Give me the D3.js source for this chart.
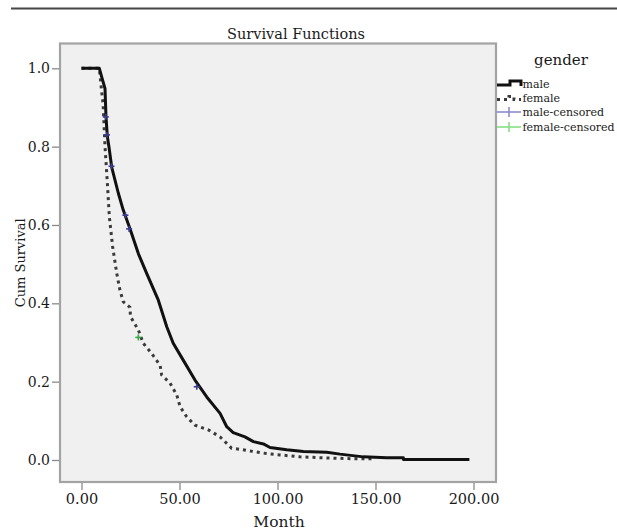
<!DOCTYPE html>
<html>
<head>
<meta charset="utf-8">
<script src="https://cdn.jsdelivr.net/npm/d3@7"></script>
<style>
  html, body { margin: 0; padding: 0; background: #ffffff; }
  svg { display: block; }
  text { font-family: "DejaVu Serif", "Liberation Serif", serif; fill: #1a1a1a; }
</style>
</head>
<body>
<svg id="chart" width="617" height="529"></svg>
<script>
// ---- data ----
const chartTitle = "Survival Functions";
const xAxisTitle = "Month";
const yAxisTitle = "Cum Survival";
const legendTitle = "gender";
const legendLabels = ["male", "female", "male-censored", "female-censored"];

const xTicks = [0, 50, 100, 150, 200];
const yTicks = [0.0, 0.2, 0.4, 0.6, 0.8, 1.0];

const maleMonths = [0, 9.1, 10.3, 12.0, 12.5, 13.2, 14.0, 15.4, 18.8, 21.3, 24.7, 29.0, 33.3, 39.2, 43.5, 46.8, 51.9, 57.9, 63.9, 70.7, 74.1, 77.4, 83.4, 87.7, 92.8, 96.2, 104.7, 113.2, 125.1, 131.9, 143.8, 155.7, 164.2, 164.3, 197.9];
const maleSurvival = [1.0, 1.0, 0.978, 0.948, 0.876, 0.825, 0.80, 0.748, 0.681, 0.638, 0.591, 0.527, 0.476, 0.408, 0.340, 0.298, 0.255, 0.204, 0.161, 0.119, 0.085, 0.070, 0.059, 0.047, 0.041, 0.032, 0.026, 0.022, 0.020, 0.015, 0.008, 0.006, 0.006, 0.001, 0.001];

const femaleMonths = [0, 9.1, 10.3, 11.0, 12.0, 13.2, 14.2, 15.9, 18.0, 19.6, 21.3, 24.7, 25.0, 29.0, 31.5, 35.8, 40.1, 40.9, 45.2, 48.6, 50.3, 53.7, 57.9, 64.7, 70.7, 76.6, 82.4, 93.6, 101.3, 111.5, 126.8, 140.1, 150.0];
const femaleSurvival = [1.0, 1.0, 0.94, 0.91, 0.80, 0.706, 0.621, 0.544, 0.476, 0.434, 0.404, 0.390, 0.366, 0.332, 0.298, 0.272, 0.242, 0.217, 0.196, 0.166, 0.136, 0.110, 0.089, 0.077, 0.059, 0.030, 0.026, 0.017, 0.013, 0.008, 0.005, 0.003, 0.003];

const maleCensoredMonths = [12.4, 13.0, 15.3, 22.4, 24.3, 58.8];
const maleCensoredSurvival = [0.876, 0.83, 0.75, 0.625, 0.59, 0.187];
const femaleCensoredMonths = [29.0];
const femaleCensoredSurvival = [0.313];

// ---- layout ----
const W = 617, H = 529;
const box = { left: 60, right: 496, top: 43.5, bottom: 482 };
const svg = d3.select("#chart");

svg.append("rect").attr("width", W).attr("height", H).attr("fill", "#ffffff");

const x = d3.scaleLinear().domain([0, 200]).range([81.5, 473.5]);
const y = d3.scaleLinear().domain([0, 1]).range([460, 68.3]);

// top rule
svg.append("line")
  .attr("x1", 11).attr("x2", W).attr("y1", 8.5).attr("y2", 8.5)
  .attr("stroke", "#474747").attr("stroke-width", 2);

// title
svg.append("text")
  .attr("x", 296).attr("y", 39)
  .attr("text-anchor", "middle").attr("font-size", 14.5)
  .text(chartTitle);

// plot area
svg.append("rect")
  .attr("x", box.left).attr("y", box.top)
  .attr("width", box.right - box.left).attr("height", box.bottom - box.top)
  .attr("fill", "#f0f0f0").attr("stroke", "#a3a3a3").attr("stroke-width", 2.2);

// y axis
const yAxis = d3.axisLeft(y).tickValues(yTicks).tickFormat(d3.format(".1f")).tickSize(7).tickPadding(2);
const gy = svg.append("g").attr("transform", `translate(${box.left - 1},0)`).call(yAxis);
gy.select(".domain").remove();
gy.selectAll(".tick line").attr("stroke", "#8a8a8a").attr("stroke-width", 1.3);
gy.selectAll(".tick text").attr("font-size", 14).attr("font-family", "DejaVu Serif").attr("fill", "#1a1a1a");

// x axis
const xAxis = d3.axisBottom(x).tickValues(xTicks).tickFormat(d3.format(".2f")).tickSize(7).tickPadding(4);
const gx = svg.append("g").attr("transform", `translate(0,${box.bottom + 1})`).call(xAxis);
gx.select(".domain").remove();
gx.selectAll(".tick line").attr("stroke", "#8a8a8a").attr("stroke-width", 1.3);
gx.selectAll(".tick text").attr("font-size", 14.5).attr("font-family", "DejaVu Serif").attr("fill", "#1a1a1a");

// axis titles
svg.append("text")
  .attr("x", 279).attr("y", 526.5)
  .attr("text-anchor", "middle").attr("font-size", 15.5)
  .text(xAxisTitle);
svg.append("text")
  .attr("transform", `translate(25,${(box.top + box.bottom) / 2}) rotate(-90)`)
  .attr("text-anchor", "middle").attr("font-size", 13)
  .text(yAxisTitle);

// curves
const line = d3.line().x(d => x(d[0])).y(d => y(d[1])).curve(d3.curveLinear);
const femaleData = femaleMonths.map((m, i) => [m, femaleSurvival[i]]);
const maleData = maleMonths.map((m, i) => [m, maleSurvival[i]]);

svg.append("path").datum(femaleData)
  .attr("d", line).attr("fill", "none")
  .attr("stroke", "#3a3a3a").attr("stroke-width", 3)
  .attr("stroke-dasharray", "3,4");

svg.append("path").datum(maleData)
  .attr("d", line).attr("fill", "none")
  .attr("stroke", "#111111").attr("stroke-width", 3)
  .attr("stroke-linejoin", "round");

// censored marks
function crosses(ms, ss, color) {
  const g = svg.append("g").attr("stroke", color).attr("stroke-width", 1.6);
  ms.forEach((m, i) => {
    const cx = x(m), cy = y(ss[i]);
    g.append("line").attr("x1", cx - 3).attr("x2", cx + 3).attr("y1", cy).attr("y2", cy);
    g.append("line").attr("x1", cx).attr("x2", cx).attr("y1", cy - 3).attr("y2", cy + 3);
  });
}
crosses(maleCensoredMonths, maleCensoredSurvival, "#3b3b8f");
crosses(femaleCensoredMonths, femaleCensoredSurvival, "#3aa843");

// legend
svg.append("text")
  .attr("x", 561).attr("y", 65).attr("text-anchor", "middle").attr("font-size", 15)
  .text(legendTitle);

const legY = [84, 98.5, 112, 127];
const lg = svg.append("g");
lg.append("path").attr("d", `M497,${legY[0] + 1}H510V${legY[0] - 3}H521V${legY[0] + 2}`)
  .attr("fill", "none").attr("stroke", "#111").attr("stroke-width", 3);
lg.append("path").attr("d", `M497,${legY[1] + 1}H509V${legY[1] - 2}H514V${legY[1] + 1}H521`)
  .attr("fill", "none").attr("stroke", "#3a3a3a").attr("stroke-width", 3).attr("stroke-dasharray", "3,4");
[["#8c8cd0", legY[2]], ["#86e086", legY[3]]].forEach(([c, yy]) => {
  lg.append("line").attr("x1", 497).attr("x2", 521).attr("y1", yy).attr("y2", yy).attr("stroke", c).attr("stroke-width", 1.6);
  lg.append("line").attr("x1", 509).attr("x2", 509).attr("y1", yy - 5).attr("y2", yy + 5).attr("stroke", c).attr("stroke-width", 1.6);
});
legendLabels.forEach((lab, i) => {
  lg.append("text").attr("x", 522.5).attr("y", legY[i]).attr("dy", "0.35em")
    .attr("font-size", 11).text(lab);
});
</script>
</body>
</html>
